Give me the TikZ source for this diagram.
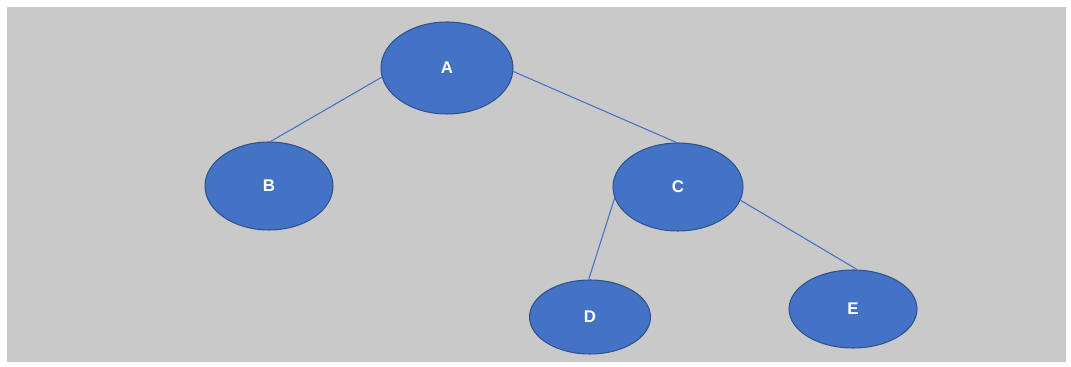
\documentclass[tikz,border=0pt]{standalone}
\usepackage{fontspec}
\setmainfont{Liberation Sans}
\usepackage{tikz}
\usetikzlibrary{shapes.geometric}

\definecolor{bleunoeud}{HTML}{4472C4}
\definecolor{bordnoeud}{HTML}{2F528F}
\definecolor{fondmur}{HTML}{C9C9C9}

\tikzset{
  noeud/.style={ellipse, fill=bleunoeud, draw=bordnoeud, line width=0.6pt,
    inner sep=0pt, text=white, font=\fontsize{9.6}{11}\selectfont\bfseries},
  arete/.style={draw=bleunoeud, line width=0.6pt}
}

\begin{document}
\begin{tikzpicture}[x=0.02cm, y=-0.02cm]

% Fond
\fill[white] (0,0) rectangle (1071,367);
\useasboundingbox (0,0) rectangle (1071,367);
\fill[fondmur] (7,7) rectangle (1066,362);

% Noeuds de l'arbre
\node[noeud, minimum width=2.64cm, minimum height=1.84cm] (A) at (447,68) {A};
\node[noeud, minimum width=2.56cm, minimum height=1.76cm] (B) at (269,186) {B};
\node[noeud, minimum width=2.60cm, minimum height=1.76cm] (C) at (678,187) {C};
\node[noeud, minimum width=2.42cm, minimum height=1.48cm] (D) at (590,317) {D};
\node[noeud, minimum width=2.56cm, minimum height=1.56cm] (E) at (853,309) {E};

% Aretes
\draw[arete] (A.188) -- (B.88);
\draw[arete] (A.-3) -- (C.92);
\draw[arete] (C.190) -- (D.92);
\draw[arete] (C.-12) -- (E.84);

\end{tikzpicture}
\end{document}
